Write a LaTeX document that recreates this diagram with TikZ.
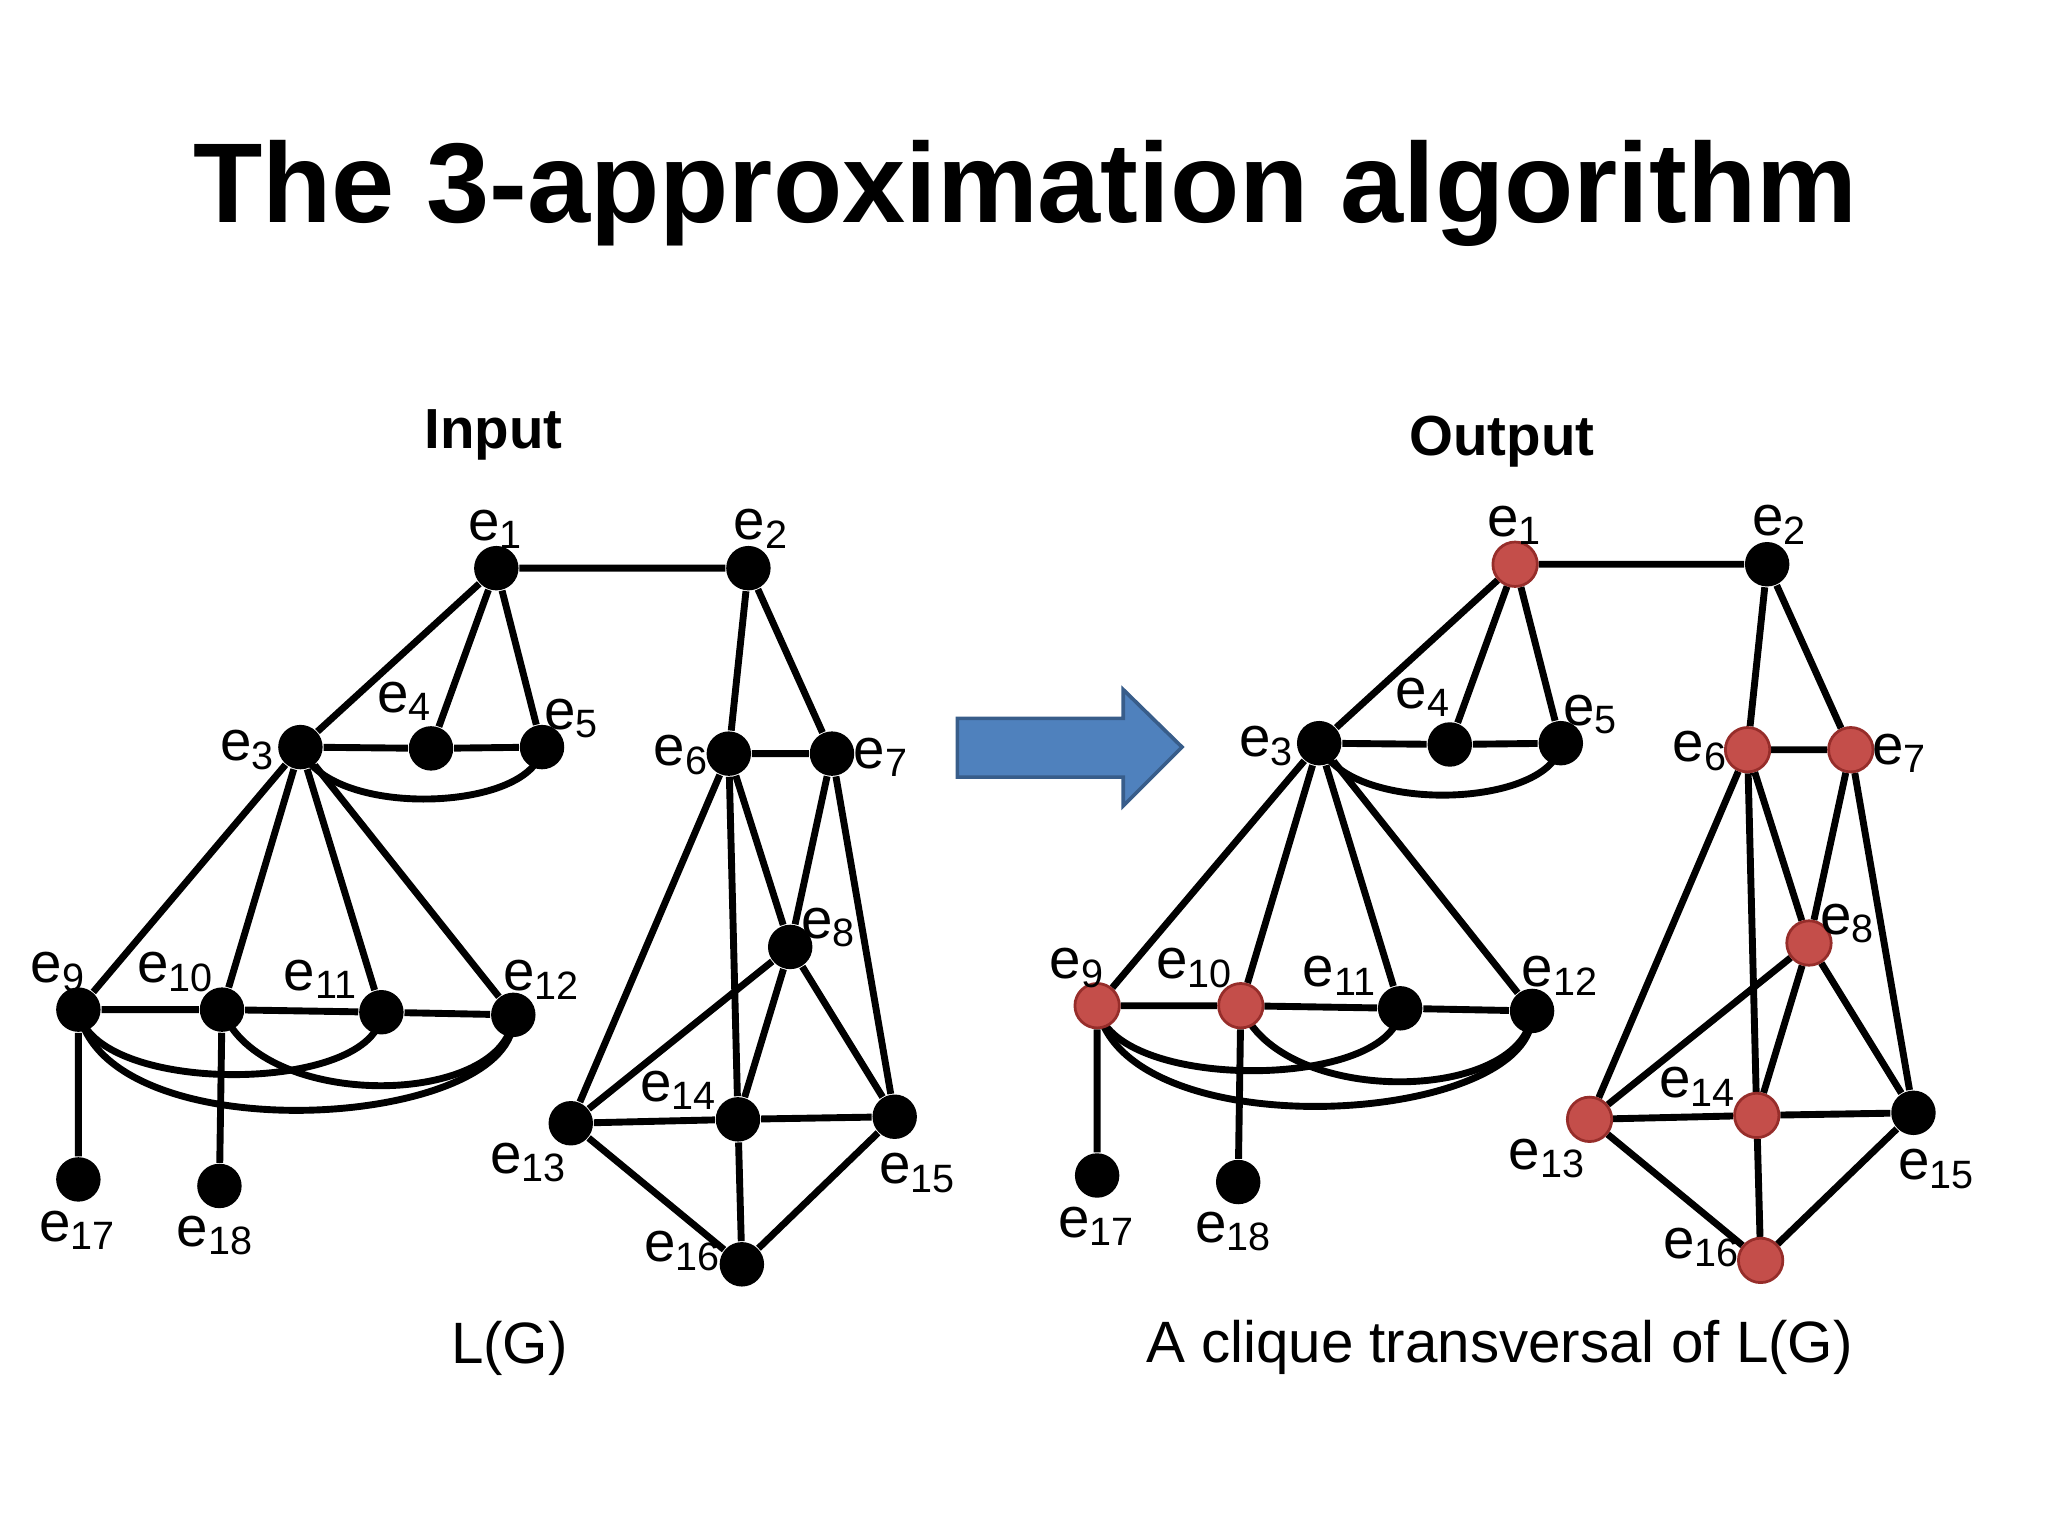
\documentclass[tikz,border=0pt]{standalone}
\usepackage{fontspec}
\setmainfont{Liberation Sans}
\definecolor{redv}{RGB}{196,78,74}
\definecolor{redb}{RGB}{150,45,42}
\tikzset{
 vtx/.style={circle,fill=black,inner sep=0pt,minimum size=0.34cm},
 rv/.style={circle,fill=redv,draw=redb,line width=0.6pt,inner sep=0pt,minimum size=0.34cm},
 lab/.style={font=\fontsize{12.3}{14}\selectfont,inner sep=0pt},
 ed/.style={line width=1.5pt}
}
\newcommand{\E}[1]{e\textsubscript{#1}}
\newcommand{\graphG}[6]{%
 \node[#1] (e1) at (380,435) {};
 \node[vtx] (e2) at (573,435) {};
 \node[vtx] (e3) at (230,572) {};
 \node[vtx] (e4) at (330,573) {};
 \node[vtx] (e5) at (415,572) {};
 \node[#2] (e6) at (558,577) {};
 \node[#2] (e7) at (637,577) {};
 \node[#3] (e8) at (605,725) {};
 \node[#4] (e9) at (60,773) {};
 \node[#4] (e10) at (170,773) {};
 \node[vtx] (e11) at (292,775) {};
 \node[vtx] (e12) at (393,777) {};
 \node[#5] (e13) at (437,860) {};
 \node[#5] (e14) at (565,857) {};
 \node[vtx] (e15) at (685,855) {};
 \node[#6] (e16) at (568,968) {};
 \node[vtx] (e17) at (60,903) {};
 \node[vtx] (e18) at (168,908) {};
 \begin{scope}[on background layer]
 \draw[ed] (e1)--(e2) (e1)--(e3) (e1)--(e4) (e1)--(e5) (e3)--(e4) (e4)--(e5)
   (e2)--(e6) (e2)--(e7) (e6)--(e7)
   (e3)--(e9) (e3)--(e10) (e3)--(e11) (e3)--(e12)
   (e9)--(e10) (e10)--(e11) (e11)--(e12) (e9)--(e17) (e10)--(e18)
   (e6)--(e8) (e7)--(e8) (e8)--(e14) (e8)--(e13) (e8)--(e15)
   (e6)--(e14) (e6)--(e13) (e7)--(e15)
   (e13)--(e14) (e14)--(e15) (e13)--(e16) (e14)--(e16) (e15)--(e16);
 \draw[ed] (e3.center) .. controls (250,628) and (410,622) .. (e5.center);
 \draw[ed] (e9.center) .. controls (70,840) and (290,838) .. (e11.center);
 \draw[ed] (e10.center) .. controls (200,852) and (390,848) .. (e12.center);
 \draw[ed] (e9.center) .. controls (80,885) and (400,865) .. (e12.center);
 \end{scope}
 \node[lab] (l1) at (380,405) {\E{1}};
 \node[lab] (l2) at (583,405) {\E{2}};
 \node[lab] (l3) at (190,574) {\E{3}};
 \node[lab] (l4) at (310,537) {\E{4}};
 \node[lab] (l5) at (438,550) {\E{5}};
 \node[lab] (l6) at (522,578) {\E{6}};
 \node[lab] (l7) at (675,580) {\E{7}};
 \node[lab] (l8) at (635,710) {\E{8}};
 \node[lab] (l9) at (45,744) {\E{9}};
 \node[lab] (l10) at (135,744) {\E{10}};
 \node[lab] (l11) at (246,750) {\E{11}};
 \node[lab] (l12) at (415,750) {\E{12}};
 \node[lab] (l13) at (405,890) {\E{13}};
 \node[lab] (l14) at (520,835) {\E{14}};
 \node[lab] (l15) at (703,898) {\E{15}};
 \node[lab] (l16) at (523,958) {\E{16}};
 \node[lab] (l17) at (60,942) {\E{17}};
 \node[lab] (l18) at (165,946) {\E{18}};
}
\usetikzlibrary{backgrounds}
\begin{document}
\begin{tikzpicture}[x=0.01cm,y=-0.01cm]
\useasboundingbox (0,0) rectangle (1568,1176);
\node[font=\bfseries\fontsize{24.7}{28}\selectfont] (title) at (785,148) {The 3-approximation algorithm};
\node[font=\bfseries\fontsize{12.3}{15}\selectfont] (in) at (378,333) {Input};
\node[font=\bfseries\fontsize{12.3}{15}\selectfont] (out) at (1150,338) {Output};
\node[font=\fontsize{12.7}{15}\selectfont] (lg) at (390,1032) {L(G)};
\node[font=\fontsize{12.7}{15}\selectfont] (ct) at (1148,1032) {A clique transversal of L(G)};
\draw[fill={rgb,255:red,79;green,129;blue,189},draw={rgb,255:red,56;green,93;blue,138},line width=0.8pt]
 (733,550) -- (860,550) -- (860,528) -- (905,572) -- (860,617) -- (860,595) -- (733,595) -- cycle;
\begin{scope}
\graphG{vtx}{vtx}{vtx}{vtx}{vtx}{vtx}
\end{scope}
\begin{scope}[shift={(780,-3)}]
\graphG{rv}{rv}{rv}{rv}{rv}{rv}
\end{scope}
\end{tikzpicture}
\end{document}
